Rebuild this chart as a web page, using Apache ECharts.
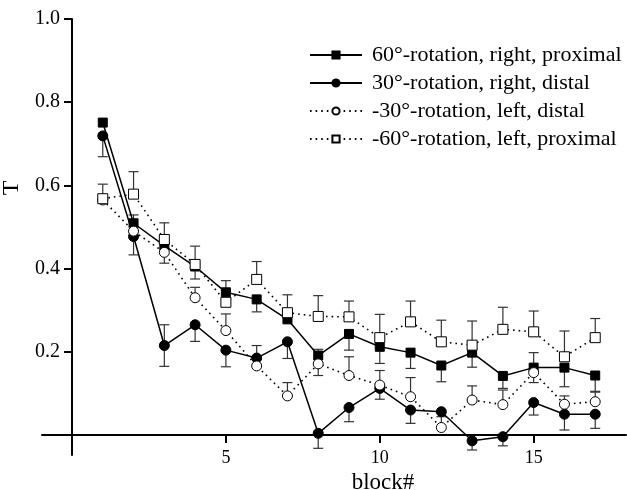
<!DOCTYPE html>
<html>
<head>
<meta charset="utf-8">
<script src="https://cdn.jsdelivr.net/npm/echarts@6/dist/echarts.min.js"></script>
<style>
html, body { margin: 0; padding: 0; background: #fff; }
#chart { width: 627px; height: 490px; }
</style>
</head>
<body>
<div id="chart"></div>
<script>
// block numbers
var blocks = [1, 2, 3, 4, 5, 6, 7, 8, 9, 10, 11, 12, 13, 14, 15, 16, 17];

// 60deg rotation, right, proximal (filled square)
var r60 = [0.751, 0.509, 0.455, 0.405, 0.343, 0.326, 0.278, 0.191, 0.243, 0.212, 0.198, 0.167, 0.198, 0.142, 0.162, 0.162, 0.143];
var r60Up = [0, 0.02, 0, 0, 0.028, 0, 0, 0.015, 0, 0, 0, 0, 0, 0, 0.036, 0, 0];
var r60Down = [0, 0, 0, 0.03, 0, 0.03, 0, 0, 0.039, 0.04, 0.038, 0.039, 0.035, 0.03, 0, 0.046, 0.04];

// 30deg rotation, right, distal (filled circle)
var r30 = [0.719, 0.477, 0.215, 0.265, 0.204, 0.185, 0.224, 0.004, 0.066, 0.112, 0.06, 0.056, -0.014, -0.004, 0.078, 0.05, 0.05];
var r30Up = [0, 0, 0.05, 0, 0, 0.03, 0, 0, 0, 0, 0, 0, 0, 0, 0, 0, 0];
var r30Down = [0.05, 0.044, 0.05, 0.04, 0.04, 0, 0.04, 0.036, 0.034, 0.026, 0.032, 0, 0.022, 0.022, 0.03, 0.038, 0.034];

// -30deg rotation, left, distal (open circle)
var l30 = [0.565, 0.49, 0.439, 0.33, 0.251, 0.166, 0.094, 0.171, 0.143, 0.12, 0.092, 0.018, 0.084, 0.073, 0.15, 0.074, 0.08];
var l30Up = [0, 0, 0, 0.025, 0.04, 0, 0.032, 0, 0.045, 0.035, 0.046, 0.026, 0.034, 0.035, 0, 0.02, 0.025];
var l30Down = [0, 0, 0.026, 0, 0, 0, 0, 0.028, 0, 0, 0, 0, 0, 0, 0.024, 0, 0];

// -60deg rotation, left, proximal (open square)
var l60 = [0.568, 0.579, 0.47, 0.41, 0.319, 0.374, 0.294, 0.285, 0.284, 0.234, 0.272, 0.224, 0.216, 0.254, 0.248, 0.188, 0.234];
var l60Up = [0.035, 0.054, 0.04, 0.044, 0, 0.043, 0.043, 0.05, 0.038, 0.056, 0.05, 0.052, 0.058, 0.053, 0.05, 0.062, 0.046];
var l60Down = [0, 0, 0, 0, 0, 0, 0, 0, 0, 0, 0, 0, 0, 0, 0, 0, 0];

var names = [
    '60°-rotation, right, proximal',
    '30°-rotation, right, distal',
    '-30°-rotation, left, distal',
    '-60°-rotation, left, proximal'
];
var xTicks = [5, 10, 15];
var yTicks = [0.2, 0.4, 0.6, 0.8, 1.0];

var font = 'Liberation Serif';

function pairs(vals) {
    var res = [];
    for (var i = 0; i < blocks.length; i++) {
        res.push([blocks[i], vals[i]]);
    }
    return res;
}

function lineSeries(name, vals, symbol, size, filled, dotted) {
    return {
        name: name,
        type: 'line',
        data: pairs(vals),
        symbol: symbol,
        symbolSize: size,
        clip: false,
        z: 3,
        lineStyle: {
            color: '#000',
            width: dotted ? 1.6 : 1.5,
            type: dotted ? [1.6, 4] : 'solid'
        },
        itemStyle: {
            color: filled ? '#000' : '#fff',
            borderColor: '#000',
            borderWidth: 1
        },
        emphasis: { disabled: true }
    };
}

function errSeries(name, vals, up, down) {
    var data = [];
    for (var i = 0; i < blocks.length; i++) {
        data.push([blocks[i], vals[i] - down[i], vals[i] + up[i], vals[i]]);
    }
    return {
        name: name + ' err',
        type: 'custom',
        data: data,
        z: 2,
        silent: true,
        clip: false,
        renderItem: function (params, api) {
            var x = api.value(0);
            var lo = api.coord([x, api.value(1)]);
            var hi = api.coord([x, api.value(2)]);
            var mid = api.coord([x, api.value(3)]);
            var st = { stroke: '#333', lineWidth: 1.2, fill: null };
            var kids = [];
            var w = 5;
            if (lo[1] - mid[1] > 0.5) {
                kids.push({ type: 'line', shape: { x1: mid[0], y1: mid[1], x2: lo[0], y2: lo[1] }, style: st });
                kids.push({ type: 'line', shape: { x1: lo[0] - w, y1: lo[1], x2: lo[0] + w, y2: lo[1] }, style: st });
            }
            if (mid[1] - hi[1] > 0.5) {
                kids.push({ type: 'line', shape: { x1: mid[0], y1: mid[1], x2: hi[0], y2: hi[1] }, style: st });
                kids.push({ type: 'line', shape: { x1: hi[0] - w, y1: hi[1], x2: hi[0] + w, y2: hi[1] }, style: st });
            }
            return { type: 'group', children: kids };
        }
    };
}

var myChart = echarts.init(document.getElementById('chart'));

var option = {
    animation: false,
    backgroundColor: '#fff',
    grid: { left: 72, right: 1, top: 19, bottom: 55, outerBoundsMode: 'none', containLabel: false },
    legend: {
        orient: 'vertical',
        left: 304,
        top: 39,
        itemWidth: 52,
        itemHeight: 9,
        itemGap: 6,
        selectedMode: false,
        data: names,
        textStyle: { fontFamily: font, fontSize: 22, color: '#000', padding: [0, 0, 0, 5] }
    },
    xAxis: {
        type: 'value',
        min: 0,
        max: 18,
        name: 'block#',
        nameLocation: 'middle',
        nameGap: 33,
        nameTextStyle: { fontFamily: font, fontSize: 23, color: '#000', padding: [0, 0, 0, 68] },
        axisLine: { onZero: false, lineStyle: { color: '#000', width: 2 } },
        axisTick: { show: true, length: 8, customValues: xTicks, lineStyle: { color: '#000', width: 2 } },
        axisLabel: { customValues: xTicks, margin: 14, fontFamily: font, fontSize: 18, color: '#000' },
        splitLine: { show: false }
    },
    yAxis: {
        type: 'value',
        min: 0,
        max: 1.0,
        name: 'T',
        nameLocation: 'middle',
        nameGap: 37,
        nameTextStyle: { fontFamily: font, fontSize: 24, color: '#000', padding: [0, 0, 0, 78] },
        axisLine: { onZero: false, lineStyle: { color: '#000', width: 2 } },
        axisTick: { show: true, length: 8, customValues: yTicks, lineStyle: { color: '#000', width: 2 } },
        axisLabel: {
            customValues: yTicks,
            margin: 12,
            fontFamily: font,
            fontSize: 20,
            color: '#000',
            formatter: function (v) { return v.toFixed(1); }
        },
        splitLine: { show: false }
    },
    series: [
        lineSeries(names[0], r60, 'rect', 9, true, false),
        lineSeries(names[1], r30, 'circle', 10, true, false),
        lineSeries(names[2], l30, 'circle', 10, false, true),
        lineSeries(names[3], l60, 'rect', 10, false, true),
        errSeries(names[0], r60, r60Up, r60Down),
        errSeries(names[1], r30, r30Up, r30Down),
        errSeries(names[2], l30, l30Up, l30Down),
        errSeries(names[3], l60, l60Up, l60Down)
    ]
};

myChart.setOption(option);

// axis lines run a little past the origin, as in the original plot
var origin = myChart.convertToPixel({ gridIndex: 0 }, [0, 0]);
var leftEnd = myChart.convertToPixel({ gridIndex: 0 }, [-1, 0]);
var lowEnd = myChart.convertToPixel({ gridIndex: 0 }, [0, -0.05]);
myChart.setOption({
    graphic: [
        { type: 'line', shape: { x1: leftEnd[0], y1: origin[1], x2: origin[0], y2: origin[1] }, style: { stroke: '#000', lineWidth: 2 } },
        { type: 'line', shape: { x1: origin[0], y1: origin[1], x2: origin[0], y2: lowEnd[1] }, style: { stroke: '#000', lineWidth: 2 } }
    ]
});

window.addEventListener('resize', function () {
    myChart.resize();
});
</script>
</body>
</html>
